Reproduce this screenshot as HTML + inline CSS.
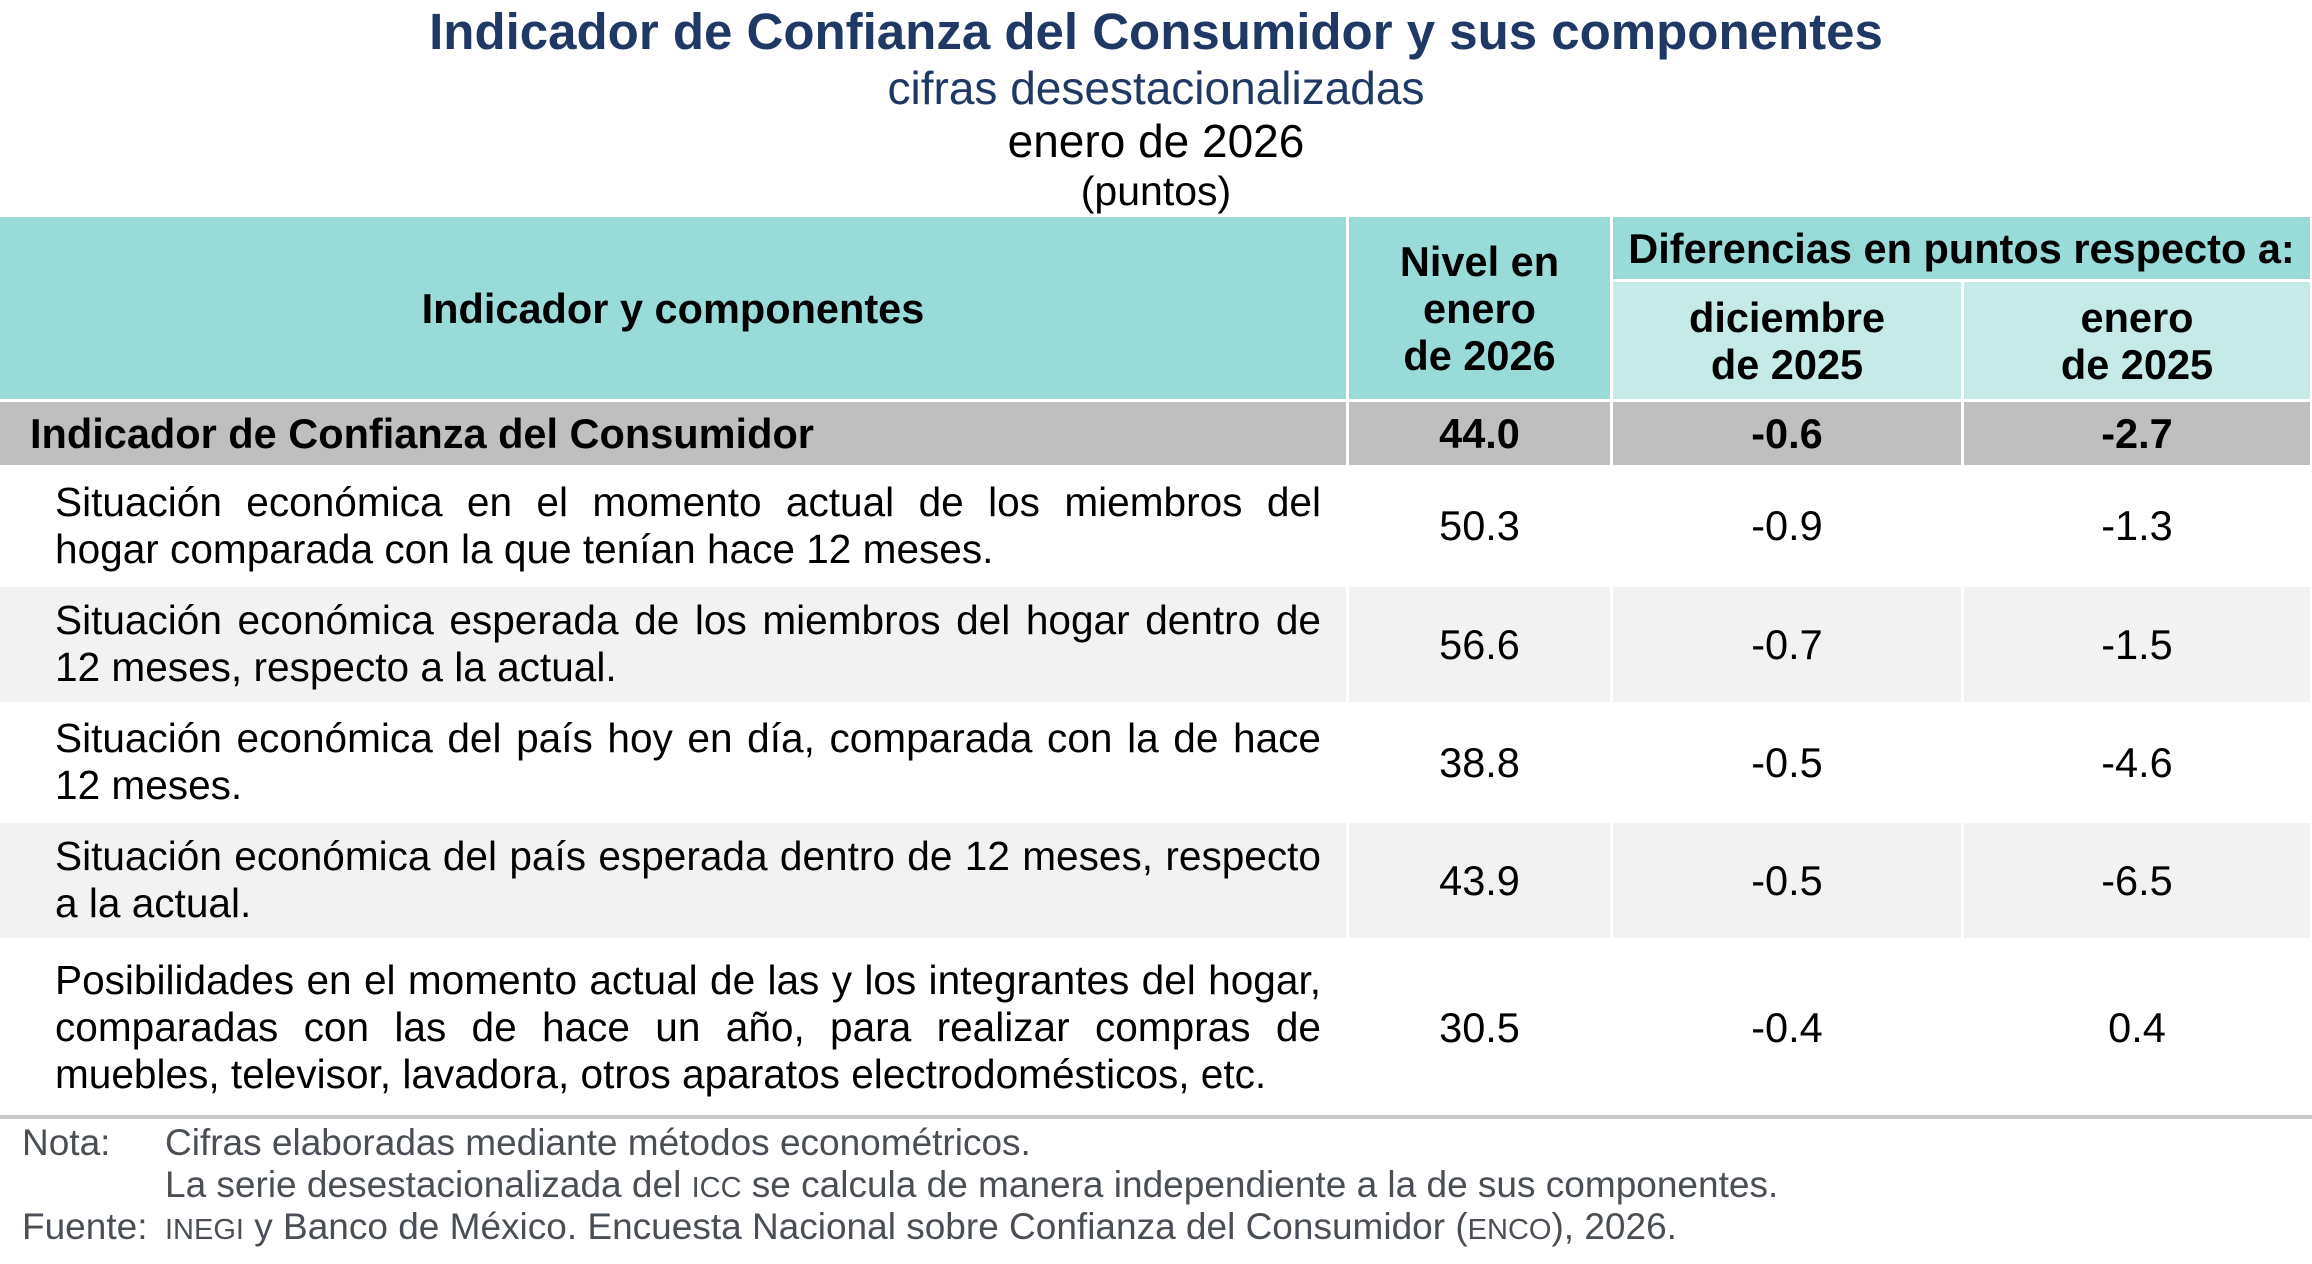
<!DOCTYPE html>
<html><head><meta charset="utf-8"><style>
body{margin:0;width:2312px;height:1264px;background:#fff;position:relative;overflow:hidden;font-family:"Liberation Sans",Arial,sans-serif;color:#000}
.a{position:absolute;box-sizing:border-box}
.c{display:flex;align-items:center;justify-content:center;text-align:center}
.t{position:absolute;left:0;width:2312px;text-align:center;white-space:nowrap}
.h{font-weight:bold;font-size:41.5px;line-height:47px}
.v{font-size:41.5px}
.b{font-weight:bold}
.txt{position:absolute;left:55px;width:1266px;font-size:40.6px;line-height:47px}
.j{text-align:justify;text-align-last:justify;white-space:nowrap}
.j.l{text-align-last:left}
.f{position:absolute;font-size:37px;color:#4a4f55;line-height:42px;white-space:nowrap}
.sc{font-size:29px}
</style></head><body>
<div class="t b" style="top:2px;font-size:51px;color:#1f3864">Indicador de Confianza del Consumidor y sus componentes</div>
<div class="t" style="top:61px;font-size:46px;color:#1f3864">cifras desestacionalizadas</div>
<div class="t" style="top:114px;font-size:46px">enero de 2026</div>
<div class="t" style="top:168px;font-size:41px">(puntos)</div>

<div class="a c h" style="left:0;top:217px;width:1346px;height:182px;background:#99dbd8">Indicador y componentes</div>
<div class="a c h" style="left:1349px;top:217px;width:261px;height:182px;background:#99dbd8">Nivel en<br>enero<br>de 2026</div>
<div class="a c h" style="left:1613px;top:217px;width:697px;height:62px;background:#99dbd8;white-space:nowrap">Diferencias en puntos respecto a:</div>
<div class="a c h" style="left:1613px;top:282px;width:348px;height:117px;background:#c5eae7">diciembre<br>de 2025</div>
<div class="a c h" style="left:1964px;top:282px;width:346px;height:117px;background:#c5eae7">enero<br>de 2025</div>

<div class="a" style="left:0;top:402px;width:1346px;height:63px;background:#bfbfbf"></div>
<div class="a b" style="left:30px;top:402px;height:63px;line-height:63px;font-size:41.5px">Indicador de Confianza del Consumidor</div>
<div class="a c b v" style="left:1349px;top:402px;width:261px;height:63px;background:#bfbfbf">44.0</div>
<div class="a c b v" style="left:1613px;top:402px;width:348px;height:63px;background:#bfbfbf">-0.6</div>
<div class="a c b v" style="left:1964px;top:402px;width:346px;height:63px;background:#bfbfbf">-2.7</div>

<div class="a c v" style="left:1349px;top:468px;width:261px;height:116px">50.3</div>
<div class="a c v" style="left:1613px;top:468px;width:348px;height:116px">-0.9</div>
<div class="a c v" style="left:1964px;top:468px;width:346px;height:116px">-1.3</div>
<div class="txt" style="top:479px"><div class="j">Situación económica en el momento actual de los miembros del</div><div class="j l">hogar comparada con la que tenían hace 12 meses.</div></div>

<div class="a" style="left:0;top:587px;width:1346px;height:115px;background:#f2f2f2"></div>
<div class="a c v" style="left:1349px;top:587px;width:261px;height:115px;background:#f2f2f2">56.6</div>
<div class="a c v" style="left:1613px;top:587px;width:348px;height:115px;background:#f2f2f2">-0.7</div>
<div class="a c v" style="left:1964px;top:587px;width:346px;height:115px;background:#f2f2f2">-1.5</div>
<div class="txt" style="top:597px"><div class="j">Situación económica esperada de los miembros del hogar dentro de</div><div class="j l">12 meses, respecto a la actual.</div></div>

<div class="a c v" style="left:1349px;top:705px;width:261px;height:115px">38.8</div>
<div class="a c v" style="left:1613px;top:705px;width:348px;height:115px">-0.5</div>
<div class="a c v" style="left:1964px;top:705px;width:346px;height:115px">-4.6</div>
<div class="txt" style="top:715px"><div class="j">Situación económica del país hoy en día, comparada con la de hace</div><div class="j l">12 meses.</div></div>

<div class="a" style="left:0;top:823px;width:1346px;height:115px;background:#f2f2f2"></div>
<div class="a c v" style="left:1349px;top:823px;width:261px;height:115px;background:#f2f2f2">43.9</div>
<div class="a c v" style="left:1613px;top:823px;width:348px;height:115px;background:#f2f2f2">-0.5</div>
<div class="a c v" style="left:1964px;top:823px;width:346px;height:115px;background:#f2f2f2">-6.5</div>
<div class="txt" style="top:833px"><div class="j">Situación económica del país esperada dentro de 12 meses, respecto</div><div class="j l">a la actual.</div></div>

<div class="a c v" style="left:1349px;top:941px;width:261px;height:174px">30.5</div>
<div class="a c v" style="left:1613px;top:941px;width:348px;height:174px">-0.4</div>
<div class="a c v" style="left:1964px;top:941px;width:346px;height:174px">0.4</div>
<div class="txt" style="top:957px"><div class="j">Posibilidades en el momento actual de las y los integrantes del hogar,</div><div class="j">comparadas con las de hace un año, para realizar compras de</div><div class="j l">muebles, televisor, lavadora, otros aparatos electrodomésticos, etc.</div></div>

<div class="a" style="left:0;top:1115px;width:2312px;height:4px;background:#c8c8c8"></div>

<div class="f" style="left:22px;top:1122px">Nota:</div>
<div class="f" style="left:165px;top:1122px">Cifras elaboradas mediante métodos econométricos.</div>
<div class="f" style="left:165px;top:1164px">La serie desestacionalizada del <span class="sc">ICC</span> se calcula de manera independiente a la de sus componentes.</div>
<div class="f" style="left:22px;top:1206px">Fuente:</div>
<div class="f" style="left:165px;top:1206px"><span class="sc">INEGI</span> y Banco de México. Encuesta Nacional sobre Confianza del Consumidor (<span class="sc">ENCO</span>), 2026.</div>
</body></html>
